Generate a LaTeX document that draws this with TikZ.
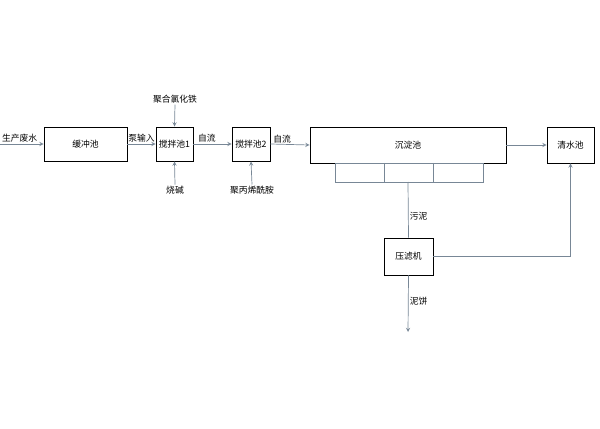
\documentclass[tikz,border=0pt]{standalone}
\usepackage{fontspec}
\setmainfont{Noto Sans CJK SC}
\usepackage{tikz}
\usepackage{xcolor}
\definecolor{flowgray}{RGB}{120,135,150}
\tikzset{pool/.style={draw=black,thick,inner sep=0pt,font=\fontsize{7.5}{9}\selectfont}}
\tikzset{flow/.style={->,>=stealth,flowgray,semithick}}
\tikzset{tag/.style={font=\fontsize{7.5}{9}\selectfont,inner sep=1pt,text=black}}

\begin{document}
\begin{tikzpicture}[x=0.03cm,y=-0.03cm]
            \useasboundingbox (0,0) rectangle (600,428);
            % the pools
            \node[pool,minimum width=83*0.03cm,minimum height=34*0.03cm] (buffer) at (85.5,144) {缓冲池};
            \node[pool,minimum width=37*0.03cm,minimum height=34*0.03cm] (mixa) at (174.5,144) {搅拌池1};
            \node[pool,minimum width=38*0.03cm,minimum height=34*0.03cm] (mixb) at (251,144) {搅拌池2};
            \node[pool,minimum width=196*0.03cm,minimum height=36*0.03cm] (settle) at (408,145) {沉淀池};
            \node[pool,minimum width=47*0.03cm,minimum height=36*0.03cm] (clear) at (570.5,145) {清水池};
            \node[pool,minimum width=49*0.03cm,minimum height=37*0.03cm] (press) at (408.5,256.5) {压滤机};
            % hoppers under the settling pool
            \draw[flowgray,semithick] (335,163) rectangle (483,182);
            \draw[flowgray,semithick] (384,163) -- (384,182);
            \draw[flowgray,semithick] (433,163) -- (433,182);
            \coordinate (hop) at (408,182);
            % main flow
            \coordinate (inlet) at (0,144);
            \draw[flow] (inlet) -- (buffer.west) node[tag,pos=0.45,above] {生产废水};
            \draw[flow] (buffer.east) -- (mixa.west) node[tag,midway,above] {泵输入};
            \draw[flow] (mixa.east) -- (mixb.west) node[tag,pos=0.35,above] {自流};
            \draw[flow] (mixb.east) -- (settle.west) node[tag,pos=0.3,above] {自流};
            \draw[flow] (settle.east) -- (clear.west);
            % dosing
            \node[tag] (pac) at (175,99) {聚合氯化铁};
            \node[tag] (soda) at (175,190) {烧碱};
            \node[tag] (pam) at (252,190) {聚丙烯酰胺};
            \draw[flow] (pac.south) -- (mixa.north);
            \draw[flow] (soda.north) -- (mixa.south);
            \draw[flow] (pam.north) -- (mixb.south);
            % sludge
            \draw[flowgray,semithick] (hop) -- (press.north) node[tag,pos=0.62,right] {污泥};
            \coordinate (cake) at (408,332);
            \draw[flow] (press.south) -- (cake) node[tag,pos=0.45,right] {泥饼};
            \draw[flow] (press.east) -| (clear.south);
        \end{tikzpicture}
\end{document}
